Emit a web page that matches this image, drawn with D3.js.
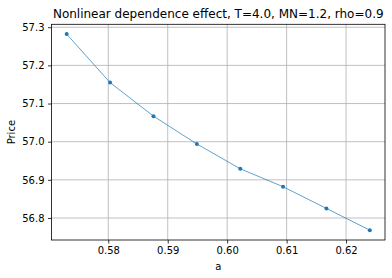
<!DOCTYPE html>
<html>
<head>
<meta charset="utf-8">
<script src="https://cdn.jsdelivr.net/npm/d3@7"></script>
<style>
  body { margin: 0; background: #fff; }
  text { font-family: "DejaVu Sans", sans-serif; fill: #000; }
</style>
</head>
<body>
<div id="chart"></div>
<script>
var aValues = [0.5730, 0.5803, 0.5876, 0.5949, 0.6022, 0.6094, 0.6167, 0.6240];
var prices = [57.282, 57.155, 57.067, 56.994, 56.929, 56.882, 56.825, 56.768];
var xTicks = [0.58, 0.59, 0.60, 0.61, 0.62];
var yTicks = [56.8, 56.9, 57.0, 57.1, 57.2, 57.3];

var width = 392, height = 278;
var margin = {left: 51.5, right: 7, top: 24.3, bottom: 38};

var svg = d3.select("#chart").append("svg")
    .attr("width", width)
    .attr("height", height);

// matplotlib style 5% padding
function padded(vals) {
    var ext = d3.extent(vals), d = ext[1] - ext[0];
    return [ext[0] - 0.05 * d, ext[1] + 0.05 * d];
}

var x = d3.scaleLinear()
    .domain(padded(aValues))
    .range([margin.left, width - margin.right]);

var y = d3.scaleLinear()
    .domain(padded(prices))
    .range([height - margin.bottom, margin.top]);

var g = svg.append("g");

// grid
g.selectAll(".gx")
    .data(xTicks)
  .enter().append("line")
    .attr("x1", function(d) { return x(d); })
    .attr("x2", function(d) { return x(d); })
    .attr("y1", margin.top)
    .attr("y2", height - margin.bottom)
    .attr("stroke", "#b0b0b0")
    .attr("stroke-width", 0.8);

g.selectAll(".gy")
    .data(yTicks)
  .enter().append("line")
    .attr("y1", function(d) { return y(d); })
    .attr("y2", function(d) { return y(d); })
    .attr("x1", margin.left)
    .attr("x2", width - margin.right)
    .attr("stroke", "#b0b0b0")
    .attr("stroke-width", 0.8);

// axes
var xAxis = d3.axisBottom(x).tickValues(xTicks).tickFormat(d3.format(".2f"))
    .tickSizeInner(3.5).tickSizeOuter(0).tickPadding(3.5);
var yAxis = d3.axisLeft(y).tickValues(yTicks).tickFormat(d3.format(".1f"))
    .tickSizeInner(3.5).tickSizeOuter(0).tickPadding(3.5);

var gx = svg.append("g")
    .attr("transform", "translate(0," + (height - margin.bottom) + ")")
    .call(xAxis);
var gy = svg.append("g")
    .attr("transform", "translate(" + margin.left + ",0)")
    .call(yAxis);

[gx, gy].forEach(function(a) {
    a.select(".domain").remove();
    a.selectAll("line").attr("stroke", "#000").attr("stroke-width", 0.8);
    a.selectAll("text").attr("font-size", 10).attr("font-family", "DejaVu Sans").attr("fill", "#000");
});

// frame
svg.append("rect")
    .attr("x", margin.left)
    .attr("y", margin.top)
    .attr("width", width - margin.right - margin.left)
    .attr("height", height - margin.bottom - margin.top)
    .attr("fill", "none")
    .attr("stroke", "#000")
    .attr("stroke-width", 0.8);

// series
var line = d3.line()
    .x(function(d, i) { return x(aValues[i]); })
    .y(function(d) { return y(d); });

svg.append("path")
    .datum(prices)
    .attr("d", line)
    .attr("fill", "none")
    .attr("stroke", "#1f77b4")
    .attr("stroke-width", 0.7);

svg.selectAll(".pt")
    .data(prices)
  .enter().append("circle")
    .attr("cx", function(d, i) { return x(aValues[i]); })
    .attr("cy", function(d) { return y(d); })
    .attr("r", 2)
    .attr("fill", "#1f77b4");

// labels
svg.append("text")
    .attr("x", (margin.left + width - margin.right) / 2)
    .attr("y", margin.top - 6)
    .attr("text-anchor", "middle")
    .attr("font-size", 12)
    .text("Nonlinear dependence effect, T=4.0, MN=1.2, rho=0.9");

svg.append("text")
    .attr("x", (margin.left + width - margin.right) / 2)
    .attr("y", 270)
    .attr("text-anchor", "middle")
    .attr("font-size", 10)
    .text("a");

svg.append("text")
    .attr("transform", "translate(15," + ((margin.top + height - margin.bottom) / 2) + ") rotate(-90)")
    .attr("text-anchor", "middle")
    .attr("font-size", 10)
    .text("Price");
</script>
</body>
</html>
